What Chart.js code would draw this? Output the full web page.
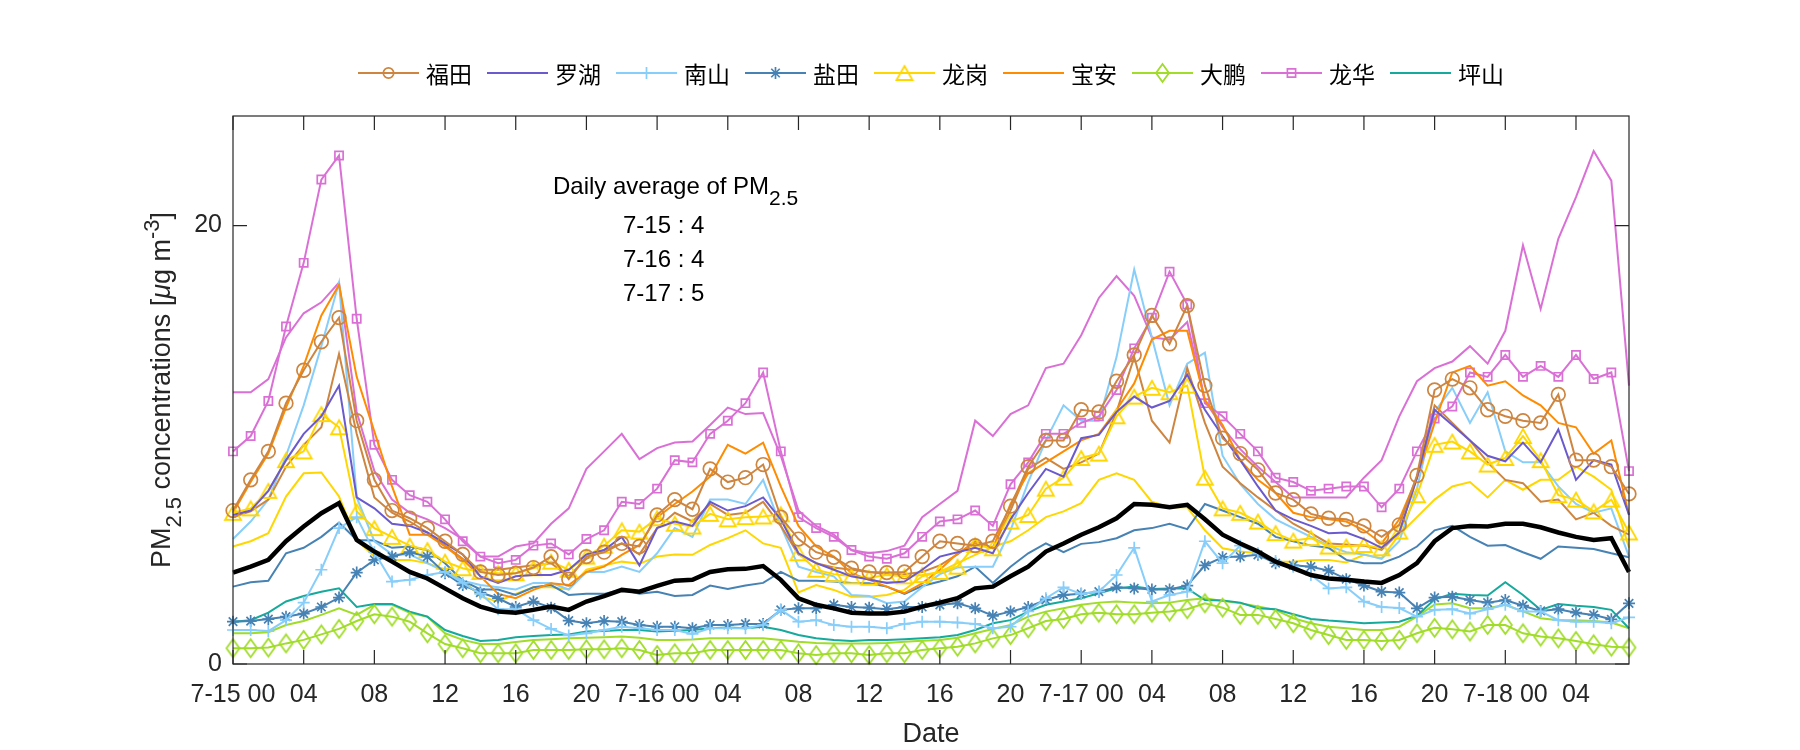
<!DOCTYPE html>
<html>
<head>
<meta charset="utf-8">
<script src="https://cdn.jsdelivr.net/npm/chart.js@4.4.0/dist/chart.umd.min.js"></script>
<style>
  html, body { margin: 0; padding: 0; background: #fff; }
</style>
</head>
<body>
<canvas id="pm" width="1800" height="750"></canvas>
<script>
// hours since 7-15 00:00
const hours = [0,1,2,3,4,5,6,7,8,9,10,11,12,13,14,15,16,17,18,19,20,21,22,23,24,25,26,27,28,29,
  30,31,32,33,34,35,36,37,38,39,40,41,42,43,44,45,46,47,48,49,50,51,52,53,54,55,56,57,58,59,
  60,61,62,63,64,65,66,67,68,69,70,71,72,73,74,75,76,77,78,79];
const tickHours = [0,4,8,12,16,20,24,28,32,36,40,44,48,52,56,60,64,68,72,76];
const tickLabels = ['7-15 00','04','08','12','16','20','7-16 00','04','08','12','16','20',
  '7-17 00','04','08','12','16','20','7-18 00','04'];
const yTicks = [0, 20];
const stations = ['福田','罗湖','南山','盐田','龙岗','宝安','大鹏','龙华','坪山'];
const dailyLabels = ['7-15 : 4', '7-16 : 4', '7-17 : 5'];

// station series (legend entries)
const futian = [7.0,8.4,9.7,11.9,13.4,14.7,15.8,11.1,8.4,7.0, 6.65,6.2,5.6,5.0,4.2,4.06,4.14,4.4,4.9,3.87,
  4.9,5.1,5.5,5.36,6.8,7.5,7.06,8.9,8.3,8.5, 9.1,6.7,5.7,5.1,4.87,4.37,4.2,4.17,4.2,4.9,
  5.6,5.5,5.4,5.6,7.2,9.0,10.2,10.2,11.6,11.5, 12.9,14.1,15.9,14.6,16.35,12.7,10.3,9.6,8.86,7.8,
  7.5,6.85,6.65,6.6,6.3,5.8,6.35,8.6,12.5,13.0, 12.6,11.6,11.3,11.1,11.0,12.3,9.3,9.3,9.0,7.76];
const luohu = [6.8,7.0,7.9,9.3,10.5,11.3,12.7,7.6,7.1,6.4, 6.3,6.0,5.5,5.0,4.0,3.7,4.0,4.06,4.06,4.3,
  5.0,5.2,5.8,4.5,6.2,6.5,6.3,7.4,7.0,7.2, 7.6,6.6,5.05,4.6,4.3,4.0,3.85,3.7,3.76,4.3,
  4.9,5.1,5.3,5.05,6.6,7.8,8.9,8.55,10.3,10.45, 11.5,12.2,11.7,12.0,13.2,11.6,10.4,9.3,8.1,7.0,
  6.6,6.3,5.97,6.0,5.7,5.3,6.0,8.5,11.6,10.9, 10.2,9.5,9.25,10.1,9.2,10.7,8.4,9.3,9.1,6.8];
const nanshan = [1.55,1.55,1.5,2.0,2.8,4.3,6.2,6.7,5.1,3.76, 3.84,4.06,4.2,3.7,3.2,2.5,2.5,2.0,1.6,1.3,
  1.4,1.55,1.7,1.63,1.55,1.55,1.37,1.63,1.63,1.63, 1.78,2.47,1.93,2.0,1.78,1.7,1.7,1.63,1.83,1.93,
  1.93,1.89,1.83,1.63,1.7,2.4,3.0,3.5,3.2,3.3, 4.06,5.3,2.85,3.15,3.3,5.6,4.6,5.4,5.05,4.7,
  4.44,4.06,3.45,3.5,2.85,2.6,2.55,2.16,2.47,2.5, 2.3,2.5,2.7,2.4,2.4,2.0,1.93,1.93,1.86,2.13];
const yantian = [1.93,1.96,2.05,2.16,2.3,2.6,3.03,4.17,4.75,4.9, 5.1,4.9,4.14,3.6,3.26,3.0,2.6,2.85,2.57,1.98,
  1.86,1.96,1.93,1.78,1.7,1.7,1.63,1.78,1.78,1.83, 1.83,2.47,2.54,2.54,2.7,2.6,2.57,2.5,2.6,2.6,
  2.7,2.77,2.54,2.2,2.39,2.6,2.92,3.15,3.2,3.3, 3.5,3.45,3.4,3.4,3.58,4.5,4.87,4.9,4.98,4.6,
  4.5,4.44,4.26,3.87,3.58,3.3,3.26,2.54,3.03,3.07, 2.92,2.8,2.92,2.66,2.42,2.5,2.34,2.24,2.04,2.77];
const longgang = [6.9,7.1,7.9,9.3,9.7,11.4,10.8,6.96,6.2,5.8, 5.4,5.2,4.67,4.37,4.2,4.14,4.14,4.37,4.67,4.3,
  4.9,5.4,6.1,6.04,6.65,6.4,6.27,6.85,6.6,6.7, 6.73,6.83,5.05,4.3,4.1,4.0,3.94,4.06,4.0,4.06,
  4.2,4.44,5.43,5.28,6.5,6.8,8.0,8.5,9.4,9.6, 11.3,12.2,12.6,12.4,12.7,8.5,7.1,6.9,6.5,5.97,
  5.63,5.74,5.36,5.36,5.43,5.28,6.04,7.7,10.0,10.15, 9.7,9.1,9.4,10.4,9.3,7.7,7.5,6.96,7.5,6.0];
const baoan = [6.9,8.3,9.6,11.7,13.6,15.9,17.3,13.1,10.6,8.1, 5.9,5.9,5.36,4.75,4.0,3.2,3.0,3.38,3.68,3.6,
  4.2,4.44,4.98,5.43,6.7,7.3,7.87,8.55,10.0,9.6, 10.1,8.1,6.3,5.36,4.9,4.14,3.84,3.53,3.23,3.68,
  4.3,5.05,5.5,5.28,7.3,8.7,9.2,9.7,10.2,10.5, 11.6,12.8,14.8,15.2,15.2,12.05,10.9,9.3,8.4,7.8,
  6.9,6.7,6.6,6.5,6.1,5.5,6.6,8.5,11.0,13.3, 13.6,12.7,12.9,12.25,11.8,11.0,10.8,9.6,10.2,6.8];
const dapeng = [0.72,0.72,0.75,0.94,1.1,1.35,1.6,1.96,2.27,2.16, 1.93,1.4,0.91,0.72,0.49,0.49,0.49,0.64,0.64,0.64,
  0.67,0.67,0.72,0.64,0.41,0.49,0.49,0.64,0.64,0.64, 0.64,0.64,0.49,0.41,0.49,0.49,0.41,0.49,0.49,0.64,
  0.72,0.79,0.94,1.17,1.32,1.63,1.96,2.05,2.27,2.34, 2.27,2.27,2.34,2.39,2.5,2.77,2.57,2.24,2.24,2.05,
  1.86,1.55,1.32,1.1,1.1,1.05,1.1,1.4,1.65,1.58, 1.48,1.78,1.78,1.4,1.25,1.17,1.05,0.9,0.79,0.75];
const longhua = [9.7,10.4,12.0,15.4,18.3,22.1,23.2,15.75,10.0,8.4, 7.7,7.4,6.6,5.6,4.9,4.6,4.75,5.4,5.5,5.0,
  5.7,6.1,7.4,7.3,8.0,9.3,9.2,10.5,11.1,11.9, 13.3,9.7,6.7,6.2,5.8,5.2,4.9,4.8,5.05,5.8,
  6.5,6.6,7.0,6.3,8.2,9.2,10.5,10.5,11.0,11.3, 12.5,14.4,15.8,17.9,16.4,11.9,11.3,10.5,9.7,8.5,
  8.3,7.9,8.0,8.1,8.1,7.15,8.0,9.7,11.2,11.75, 13.3,13.1,14.1,13.1,13.6,13.1,14.1,13.0,13.3,8.8];
const pingshan = [1.93,2.0,2.34,2.85,3.1,3.3,3.45,2.6,2.74,2.74, 2.39,2.16,1.55,1.28,1.05,1.1,1.22,1.28,1.32,1.35,
  1.48,1.5,1.55,1.55,1.48,1.52,1.55,1.63,1.66,1.63, 1.7,1.55,1.32,1.17,1.1,1.05,1.1,1.1,1.13,1.17,
  1.22,1.32,1.55,1.86,2.0,2.39,2.7,2.85,3.0,3.23, 3.45,3.53,3.42,3.45,3.45,2.92,2.9,2.8,2.54,2.5,
  2.27,2.05,1.98,1.93,1.86,1.89,1.93,2.2,2.95,3.2, 3.15,3.12,3.73,3.15,2.47,2.74,2.66,2.6,2.47,1.63];

// second lines in the same colours, no markers
const futian2 = [6.7,6.96,7.5,9.0,10.0,10.8,14.15,10.5,7.6,6.9, 6.5,6.0,5.4,4.8,4.3,4.3,4.4,4.5,4.6,4.0,
  4.8,5.2,5.5,5.0,6.2,6.9,6.5,7.3,6.8,6.9, 7.4,6.3,5.0,4.6,4.4,4.3,4.2,4.1,4.1,4.2,
  4.5,5.0,5.6,5.3,7.0,8.9,9.4,8.9,9.2,9.6, 11.5,14.0,11.1,10.1,13.5,11.0,9.0,8.25,7.6,7.0,
  6.4,5.97,5.5,5.45,5.4,5.2,6.0,8.5,11.8,11.0, 10.2,9.2,8.4,8.25,7.4,7.5,6.6,6.9,6.3,5.9];
const nanshan2 = [5.7,6.5,7.5,9.5,11.8,14.5,17.4,7.6,5.6,5.0, 5.0,4.6,4.2,3.8,3.6,3.5,3.4,3.7,3.7,3.4,
  4.2,4.2,4.45,4.2,5.05,6.2,5.8,7.5,7.5,7.3, 8.4,6.3,4.44,4.2,4.0,3.15,3.1,2.77,2.85,3.5,
  4.1,4.4,4.44,4.44,6.1,8.3,10.2,11.8,11.1,11.1, 14.0,18.0,14.9,11.8,13.7,14.2,9.5,8.2,7.3,6.6,
  6.2,5.8,5.4,5.1,5.0,4.8,5.6,8.0,11.5,12.6, 11.0,12.4,9.7,9.2,9.2,8.1,7.3,6.9,7.1,4.9];
const yantian2 = [3.53,3.73,3.8,5.05,5.3,5.8,6.45,5.66,5.63,5.3, 5.36,5.2,4.6,3.8,3.4,3.4,3.15,3.5,3.6,3.15,
  3.2,3.2,3.4,3.2,3.3,3.1,3.15,3.58,3.42,3.58, 3.7,4.2,3.8,3.8,3.76,3.7,3.68,3.53,3.2,3.56,
  3.76,4.0,4.44,3.7,4.44,5.05,5.5,5.1,5.48,5.56, 5.74,6.1,6.2,6.4,6.15,7.3,7.0,6.7,6.4,5.8,
  5.6,5.4,5.3,4.75,4.6,4.6,4.9,5.36,6.1,6.3, 5.8,5.4,5.43,5.1,4.8,5.36,5.3,5.25,5.05,4.87];
const longgang2 = [5.36,5.6,5.97,7.64,8.7,8.74,7.64,5.66,4.9,4.75, 4.75,4.6,4.3,3.84,3.07,2.85,3.2,3.5,3.5,3.4,
  4.3,4.5,4.67,4.57,4.9,5.0,4.98,5.43,5.74,6.1, 5.5,5.3,3.26,3.6,3.38,3.07,3.07,3.15,3.38,4.0,
  4.2,4.6,4.98,5.36,5.6,6.1,6.7,6.96,7.34,8.4, 8.7,8.4,7.4,7.15,7.15,6.1,5.28,5.13,5.05,4.67,
  4.67,4.75,4.75,4.63,4.98,4.83,5.9,6.7,7.5,8.1, 8.3,7.6,8.4,7.95,8.4,8.4,9.0,8.55,7.95,5.3];
const dapeng2 = [1.4,1.4,1.45,1.78,1.96,2.24,2.54,2.24,2.7,2.7, 2.34,2.16,1.4,1.1,0.91,0.91,1.0,1.1,1.13,1.17,
  1.2,1.22,1.25,1.2,1.1,1.1,1.12,1.17,1.17,1.17, 1.17,1.1,1.02,0.96,0.94,0.94,0.94,0.96,1.02,1.06,
  1.1,1.2,1.4,1.6,1.78,2.16,2.39,2.54,2.7,2.8, 2.85,2.8,2.77,2.8,2.92,3.0,2.88,2.77,2.62,2.47,
  2.09,1.86,1.7,1.63,1.55,1.55,1.7,2.16,2.72,2.77, 2.54,2.54,2.7,2.4,2.09,2.0,2.0,1.96,1.89,1.63];
const longhua2 = [12.4,12.4,13.0,14.9,16.0,16.5,17.4,11.5,8.8,7.5, 6.9,6.6,6.2,5.7,4.9,4.9,5.36,5.5,6.4,7.1,
  8.9,9.7,10.5,9.35,9.85,10.1,10.15,10.9,11.7,11.4, 11.45,9.5,7.0,6.3,5.9,5.2,5.05,5.15,5.4,6.7,
  7.3,7.9,11.1,10.4,11.4,11.8,13.5,13.7,15.0,16.7, 17.7,16.8,14.9,14.8,15.6,12.0,10.8,9.8,9.0,8.3,
  7.6,7.6,7.6,7.6,8.5,9.3,11.3,12.9,13.5,13.8, 14.5,13.7,15.2,19.1,16.2,19.4,21.3,23.4,22.05,12.7];
const average = [4.17,4.44,4.75,5.6,6.27,6.88,7.34,5.66,5.13,4.67, 4.2,3.9,3.45,3.0,2.62,2.39,2.34,2.47,2.62,2.47,
  2.85,3.1,3.38,3.3,3.56,3.8,3.84,4.2,4.32,4.34, 4.47,3.84,3.0,2.7,2.54,2.34,2.3,2.3,2.39,2.62,
  2.8,3.0,3.45,3.53,4.0,4.44,5.13,5.5,5.9,6.24, 6.65,7.3,7.26,7.15,7.26,6.6,5.9,5.5,5.13,4.67,
  4.37,4.06,3.9,3.84,3.76,3.7,4.06,4.6,5.6,6.2, 6.3,6.27,6.4,6.4,6.24,6.0,5.8,5.66,5.74,4.2];

const colors = ['#CD853F','#6A5ACD','#87CEFA','#4682B4','#FFD700','#FF8C00','#A0DC28','#DA70D6','#16AA9C'];

// hollow marker images for shapes Chart.js draws too squat
function shapeMarker(kind, w, h, color) {
  const c = document.createElement('canvas');
  c.width = w + 4; c.height = h + 4;
  const g = c.getContext('2d');
  g.strokeStyle = color; g.lineWidth = 1.8; g.lineJoin = 'miter';
  g.beginPath();
  if (kind === 'diamond') {
    g.moveTo(2 + w / 2, 2); g.lineTo(2 + w, 2 + h / 2); g.lineTo(2 + w / 2, 2 + h); g.lineTo(2, 2 + h / 2);
  } else {
    g.moveTo(2 + w / 2, 2); g.lineTo(2 + w, 2 + h); g.lineTo(2, 2 + h);
  }
  g.closePath(); g.stroke();
  return c;
}

const markers = [
  { style: 'circle', r: 6.8 }, null, { style: 'cross', r: 6 }, { style: 'star', r: 6 },
  { style: shapeMarker('triangle', 16, 14, colors[4]), r: 8 }, null,
  { style: shapeMarker('diamond', 13, 18, colors[6]), r: 9 }, { style: 'rect', r: 5.8 }, null
];
const seriesList = [futian, luohu, nanshan, yantian, longgang, baoan, dapeng, longhua, pingshan];

const toPoints = arr => arr.map((v, i) => ({ x: hours[i], y: v }));

function lineSet(label, values, color, marker, width, order) {
  return {
    label: label,
    data: toPoints(values),
    borderColor: color,
    borderWidth: width,
    pointStyle: marker ? marker.style : false,
    pointRadius: marker ? marker.r : 0,
    pointBorderColor: color,
    pointBackgroundColor: 'rgba(0,0,0,0)',
    pointBorderWidth: 1.7,
    tension: 0,
    fill: false,
    clip: false,
    order: order
  };
}

const datasets = [];
// extra lines drawn first (underneath)
datasets.push(lineSet('', futian2, colors[0], null, 2, 5));
datasets.push(lineSet('', nanshan2, colors[2], null, 2, 5));
datasets.push(lineSet('', yantian2, colors[3], null, 2, 5));
datasets.push(lineSet('', longgang2, colors[4], null, 2, 5));
datasets.push(lineSet('', dapeng2, colors[6], null, 2, 5));
datasets.push(lineSet('', longhua2, colors[7], null, 2, 5));
stations.forEach((s, i) => datasets.push(lineSet(s, seriesList[i], colors[i], markers[i], 2, 2)));
datasets.push(lineSet('avg', average, '#000000', null, 4.5, 0));

const axisColor = '#262626';
const fontFamily = '"Liberation Sans", Arial, sans-serif';

const decor = {
  id: 'decor',
  afterDraw(chart) {
    const { ctx, chartArea: a } = chart;
    const x = chart.scales.x, y = chart.scales.y;
    ctx.save();
    // box and inward ticks
    ctx.strokeStyle = axisColor;
    ctx.lineWidth = 1.2;
    ctx.strokeRect(a.left, a.top, a.right - a.left, a.bottom - a.top);
    ctx.beginPath();
    tickHours.forEach(h => {
      const px = x.getPixelForValue(h);
      ctx.moveTo(px, a.bottom); ctx.lineTo(px, a.bottom - 14);
      ctx.moveTo(px, a.top); ctx.lineTo(px, a.top + 14);
    });
    yTicks.forEach(v => {
      const py = y.getPixelForValue(v);
      ctx.moveTo(a.left, py); ctx.lineTo(a.left + 14, py);
      ctx.moveTo(a.right, py); ctx.lineTo(a.right - 14, py);
    });
    ctx.stroke();

    // x axis title
    ctx.fillStyle = axisColor;
    ctx.font = '27px ' + fontFamily;
    ctx.textAlign = 'center';
    ctx.textBaseline = 'alphabetic';
    ctx.fillText('Date', (a.left + a.right) / 2, 742);

    // y axis title with sub/superscript
    const main = '27px ' + fontFamily;
    const ital = 'italic 27px ' + fontFamily;
    const small = '22px ' + fontFamily;
    const parts = [
      { t: 'PM', f: main, dy: 0 },
      { t: '2.5', f: small, dy: 11 },
      { t: ' concentrations [', f: main, dy: 0 },
      { t: 'μ', f: ital, dy: 0 },
      { t: 'g m', f: main, dy: 0 },
      { t: '-3', f: small, dy: -11 },
      { t: ']', f: main, dy: 0 }
    ];
    let total = 0;
    parts.forEach(p => { ctx.font = p.f; p.w = ctx.measureText(p.t).width; total += p.w; });
    ctx.save();
    ctx.translate(170, (a.top + a.bottom) / 2);
    ctx.rotate(-Math.PI / 2);
    ctx.textAlign = 'left';
    let cx = -total / 2;
    parts.forEach(p => { ctx.font = p.f; ctx.fillText(p.t, cx, p.dy); cx += p.w; });
    ctx.restore();

    // daily average note
    ctx.fillStyle = '#000';
    ctx.textAlign = 'left';
    ctx.font = '24px ' + fontFamily;
    const head = 'Daily average of PM';
    ctx.fillText(head, 553, 194);
    const hw = ctx.measureText(head).width;
    ctx.font = '21px ' + fontFamily;
    ctx.fillText('2.5', 553 + hw, 205);
    ctx.font = '24px ' + fontFamily;
    dailyLabels.forEach((t, i) => ctx.fillText(t, 623, 233 + i * 34));

    // legend
    ctx.font = '23px "Noto Sans CJK SC", sans-serif';
    ctx.textBaseline = 'middle';
    const lineLen = 61, gapText = 7, gapItem = 15, ly = 73;
    const widths = stations.map(s => ctx.measureText(s).width);
    let full = 0;
    widths.forEach((w, i) => { full += lineLen + gapText + w + (i < widths.length - 1 ? gapItem : 0); });
    let lx = (a.left + a.right) / 2 - full / 2;
    stations.forEach((s, i) => {
      ctx.strokeStyle = colors[i];
      ctx.lineWidth = 2;
      ctx.beginPath(); ctx.moveTo(lx, ly); ctx.lineTo(lx + lineLen, ly); ctx.stroke();
      if (markers[i]) {
        ctx.fillStyle = 'rgba(0,0,0,0)';
        ctx.lineWidth = 1.7;
        const r = markers[i].style === 'circle' ? 5.2 : markers[i].r;
        Chart.helpers.drawPoint(ctx, { pointStyle: markers[i].style, radius: r, rotation: 0, borderWidth: 1.7 }, lx + lineLen / 2, ly);
      }
      ctx.fillStyle = '#000';
      ctx.fillText(s, lx + lineLen + gapText, ly + 1);
      lx += lineLen + gapText + widths[i] + gapItem;
    });
    ctx.restore();
  }
};

new Chart(document.getElementById('pm').getContext('2d'), {
  type: 'line',
  data: { datasets: datasets },
  options: {
    responsive: false,
    animation: false,
    events: [],
    layout: { padding: { left: 0, right: 171, top: 116, bottom: 0 } },
    plugins: { legend: { display: false }, tooltip: { enabled: false } },
    scales: {
      x: {
        type: 'linear',
        min: 0,
        max: 79,
        afterBuildTicks: s => { s.ticks = tickHours.map(v => ({ value: v })); },
        afterFit: s => { s.height = 86; },
        grid: { display: false, drawTicks: false },
        border: { display: false },
        ticks: {
          autoSkip: false,
          maxRotation: 0,
          padding: 16,
          color: axisColor,
          font: { family: fontFamily, size: 25 },
          callback: v => tickLabels[tickHours.indexOf(v)]
        }
      },
      y: {
        min: 0,
        max: 25,
        afterBuildTicks: s => { s.ticks = yTicks.map(v => ({ value: v })); },
        afterFit: s => { s.width = 233; },
        grid: { display: false, drawTicks: false },
        border: { display: false },
        ticks: {
          padding: 11,
          color: axisColor,
          font: { family: fontFamily, size: 25 },
          callback: v => String(v)
        }
      }
    }
  },
  plugins: [decor]
});
</script>
</body>
</html>
